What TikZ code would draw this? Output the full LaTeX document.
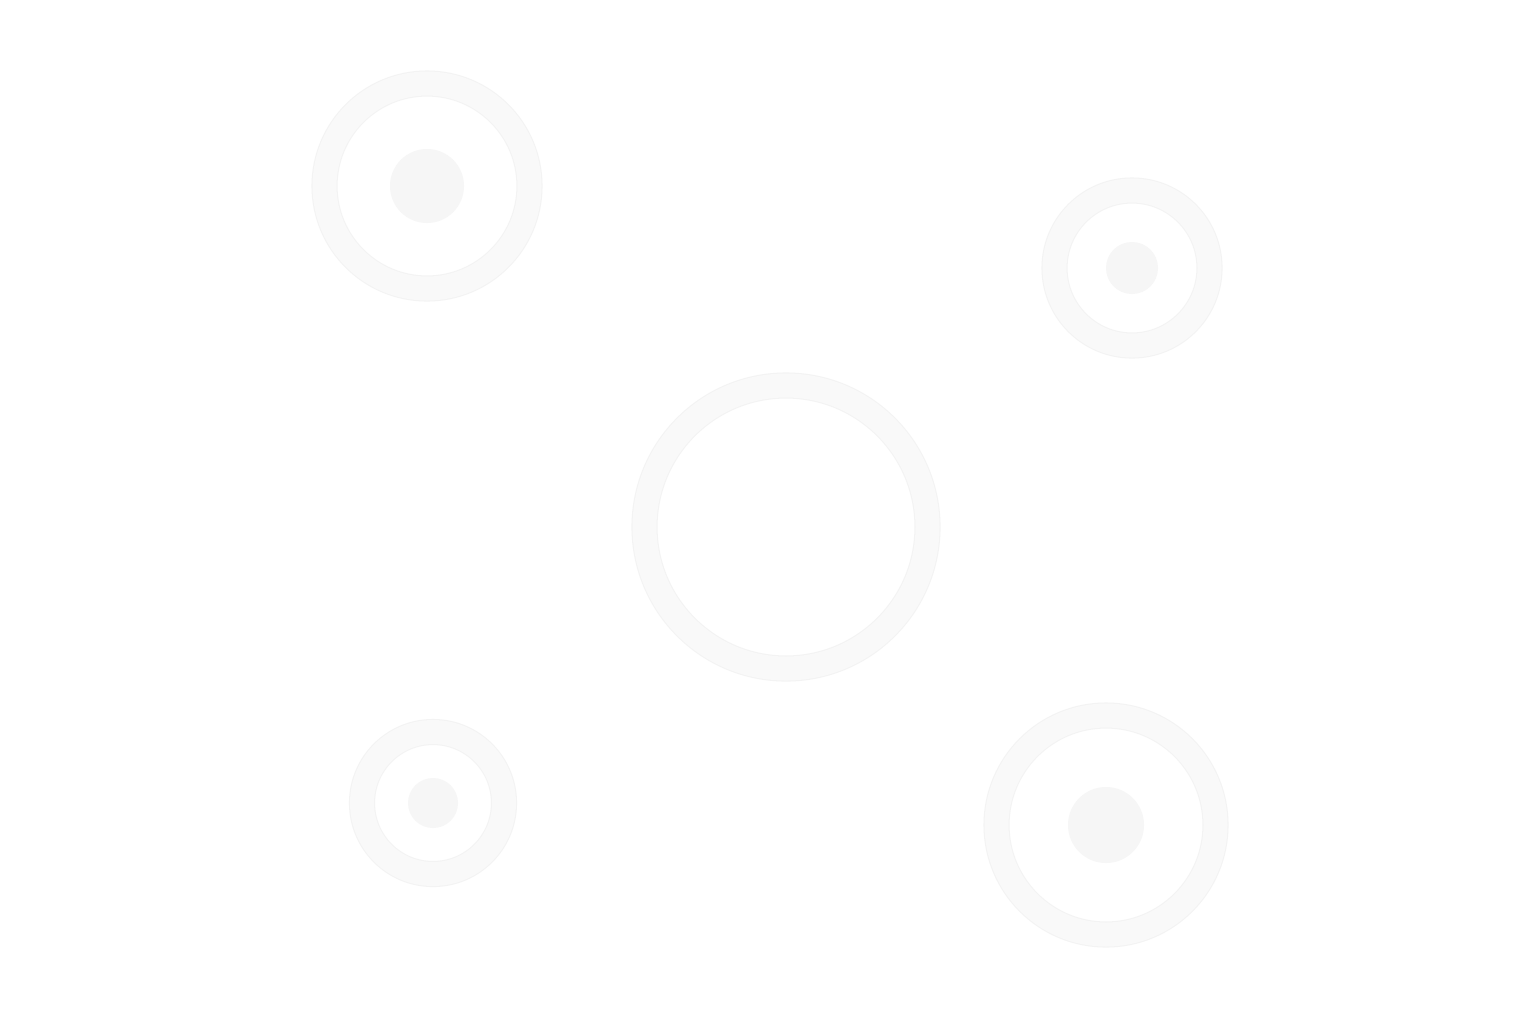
\documentclass[tikz,border=0pt]{standalone}
\usetikzlibrary{backgrounds}
\definecolor{ringc}{HTML}{F9F9F9}
\definecolor{edgec}{HTML}{F3F3F3}
\definecolor{linkc}{HTML}{FAFAFA}
\definecolor{dotc}{HTML}{F6F6F6}
\tikzset{
  ring/.style={circle, inner sep=0pt, fill=white, draw=edgec, line width=0.3pt, double=ringc, double distance=0.24cm},
  hubdot/.style={circle, inner sep=0pt, fill=dotc, draw=none},
  link/.style={draw=edgec, line width=0.3pt, double=linkc, double distance=0.24cm}
}
\begin{document}
\begin{tikzpicture}
\useasboundingbox[fill=white] (0,0) rectangle (15.36,-10.24);
\node[ring, minimum size=2.83cm] (c) at (7.86,-5.27) {};
\node[ring, minimum size=2.05cm] (tl) at (4.27,-1.86) {};
\node[ring, minimum size=1.55cm] (tr) at (11.32,-2.68) {};
\node[ring, minimum size=1.42cm] (bl) at (4.33,-8.03) {};
\node[ring, minimum size=2.19cm] (br) at (11.06,-8.25) {};
\node[hubdot, minimum size=0.74cm] (tld) at (tl.center) {};
\node[hubdot, minimum size=0.52cm] (trd) at (tr.center) {};
\node[hubdot, minimum size=0.50cm] (bld) at (bl.center) {};
\node[hubdot, minimum size=0.76cm] (brd) at (br.center) {};
\begin{scope}[on background layer]
\draw[link] (tl.center) -- (c.center);
\draw[link] (tr.center) -- (c.center);
\draw[link] (bl.center) -- (c.center);
\draw[link] (br.center) -- (c.center);
\end{scope}
\end{tikzpicture}
\end{document}
